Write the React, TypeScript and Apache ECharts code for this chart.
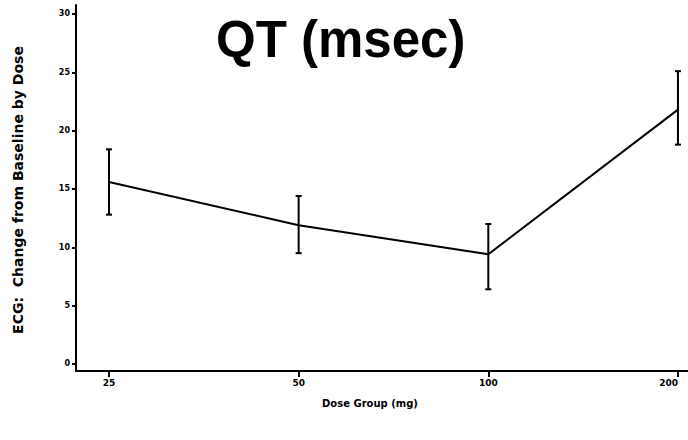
import React, { useEffect, useRef } from "react";
import * as echarts from "echarts";

const categories = ["25", "50", "100", "200"];
const meanValues = [15.6, 11.9, 9.4, 21.8];
const upperValues = [18.4, 14.4, 12.0, 25.1];
const lowerValues = [12.8, 9.5, 6.4, 18.8];
const yTicks = [0, 5, 10, 15, 20, 25, 30];

const App: React.FC = () => {
  const ref = useRef<HTMLDivElement>(null);

  useEffect(() => {
    if (!ref.current) return;
    document.body.style.margin = "0";
    const chart = echarts.init(ref.current, null, { renderer: "svg" });
    const font = "'Liberation Sans', Arial, sans-serif";
    const smallFont = "'DejaVu Sans', Verdana, sans-serif";
    const lineData = meanValues.map((v, i) => [i, v]);
    const errData = meanValues.map((_, i) => [i, lowerValues[i], upperValues[i]]);

    chart.setOption({
      animation: false,
      backgroundColor: "#ffffff",
      grid: { left: 76, right: 0, top: 5, bottom: 69, containLabel: false },
      xAxis: {
        type: "value",
        min: -0.174,
        max: 3.053,
        splitLine: { show: false },
        axisLine: { show: true, onZero: false, lineStyle: { color: "#000", width: 2 } },
        axisTick: {
          show: true,
          customValues: [0, 1, 2, 3],
          length: 6,
          lineStyle: { color: "#000", width: 2 },
        },
        axisLabel: {
          customValues: [0, 1, 2, 3],
          formatter: (v: number) => categories[Math.round(v)] ?? "",
          color: "#000",
          fontFamily: smallFont,
          fontWeight: "bold",
          fontSize: 9,
          margin: 7,
          alignMaxLabel: "right",
        },
      },
      yAxis: {
        type: "value",
        min: -0.6,
        max: 30.77,
        splitLine: { show: false },
        axisLine: { show: true, onZero: false, lineStyle: { color: "#000", width: 2 } },
        axisTick: {
          show: true,
          customValues: yTicks,
          length: 4,
          lineStyle: { color: "#000", width: 2 },
        },
        axisLabel: {
          customValues: yTicks,
          color: "#000",
          fontFamily: smallFont,
          fontWeight: "bold",
          fontSize: 8,
          margin: 6,
        },
      },
      graphic: [
        {
          type: "text",
          left: 216,
          top: 14,
          style: {
            text: "QT (msec)",
            fill: "#000",
            font: `bold 51px ${font}`,
          },
        },
        {
          type: "text",
          x: 370,
          y: 403,
          style: {
            text: "Dose Group (mg)",
            fill: "#000",
            font: `bold 10px ${smallFont}`,
            align: "center",
            verticalAlign: "middle",
          },
        },
        {
          type: "text",
          x: 18,
          y: 190,
          rotation: Math.PI / 2,
          style: {
            text: "ECG:  Change from Baseline by Dose",
            fill: "#000",
            font: `bold 14px ${smallFont}`,
            align: "center",
            verticalAlign: "middle",
          },
        },
      ],
      series: [
        {
          type: "line",
          data: lineData,
          symbol: "none",
          lineStyle: { color: "#000", width: 2 },
          z: 3,
        },
        {
          type: "custom",
          data: errData,
          z: 4,
          renderItem: (params: any, api: any) => {
            const x = api.value(0);
            const lo = api.coord([x, api.value(1)]);
            const hi = api.coord([x, api.value(2)]);
            const cap = 3;
            const style = { stroke: "#000", lineWidth: 2 };
            return {
              type: "group",
              children: [
                { type: "line", shape: { x1: lo[0], y1: lo[1], x2: hi[0], y2: hi[1] }, style },
                { type: "line", shape: { x1: lo[0] - cap, y1: lo[1], x2: lo[0] + cap, y2: lo[1] }, style },
                { type: "line", shape: { x1: hi[0] - cap, y1: hi[1], x2: hi[0] + cap, y2: hi[1] }, style },
              ],
            };
          },
        },
      ],
    });

    return () => chart.dispose();
  }, []);

  return <div ref={ref} style={{ width: 688, height: 440 }} />;
};

export default App;
